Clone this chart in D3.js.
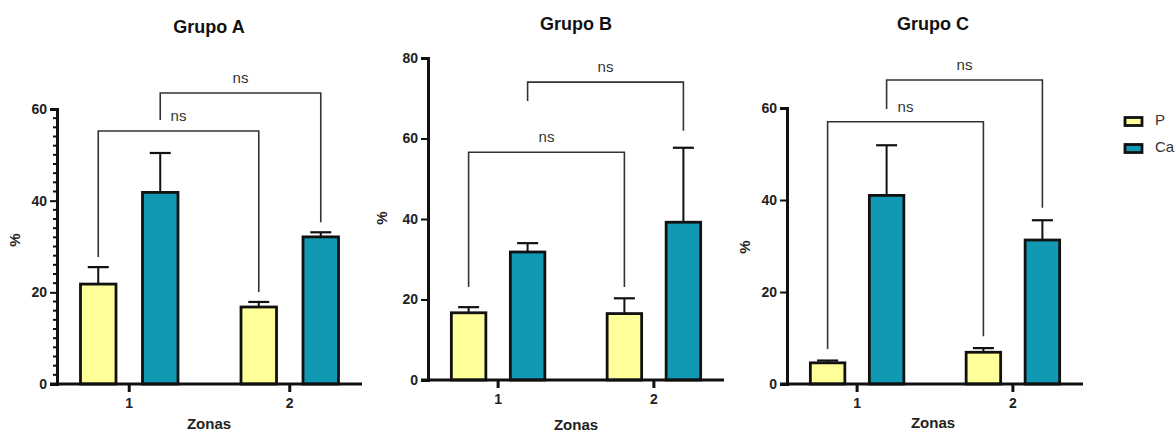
<!DOCTYPE html>
<html><head><meta charset="utf-8">
<script src="https://cdn.jsdelivr.net/npm/d3@7"></script>
<style>
body{margin:0;background:#fff;}
svg{font-family:"Liberation Sans",Arial,sans-serif;}
</style></head>
<body><svg id="c" width="1175" height="434"></svg>
<script>
// ---- data ----
const groups = ["Grupo A", "Grupo B", "Grupo C"];
const zones = ["1", "2"];
const series = ["P", "Ca"];
const seriesColors = ["#FFFF99", "#1199B4"];
const yMaxes = [60, 80, 60];
const yTicks = [[0, 20, 40, 60], [0, 20, 40, 60, 80], [0, 20, 40, 60]];
// means per group: [zone1, zone2]
const meanP = [[21.8, 16.8], [16.7, 16.5], [4.6, 6.9]];
const meanCa = [[41.8, 32.1], [31.8, 39.2], [41.0, 31.3]];
// upper end of error bar (mean + SD)
const errP = [[25.5, 17.9], [18.1, 20.3], [5.1, 7.8]];
const errCa = [[50.4, 33.1], [34.0, 57.7], [51.9, 35.6]];
// significance brackets: [fromSeries, toSeries, barY, leftLegEnd, rightLegEnd, label] in data units
const bracketsA = [["P", "P", 55.2, 27.7, 20.1, "ns"], ["Ca", "Ca", 63.5, 57.6, 35.3, "ns"]];
const bracketsB = [["P", "P", 56.6, 23.1, 23.1, "ns"], ["Ca", "Ca", 74.0, 69.3, 61.9, "ns"]];
const bracketsC = [["P", "P", 57.0, 7.6, 10.4, "ns"], ["Ca", "Ca", 66.1, 59.8, 38.3, "ns"]];
const brackets = [bracketsA, bracketsB, bracketsC];
const minorStep = [2, null, null];
const xLabel = "Zonas";
const yLabel = "%";

// ---- layout ----
const panels = [
  {x0: 57, x1: 362, yTop: 109, y0: 384, bw: 38, title: [209, 28], zl: [209, 425], yl: [16, 240]},
  {x0: 428, x1: 724, yTop: 58, y0: 380, bw: 37, title: [576, 25], zl: [576, 426], yl: [383, 218]},
  {x0: 787, x1: 1083, yTop: 108, y0: 384, bw: 37, title: [933, 25], zl: [933, 424], yl: [746, 247]}
];

const svg = d3.select("#c");

panels.forEach((p, gi) => {
  const g = svg.append("g");
  const y = d3.scaleLinear().domain([0, yMaxes[gi]]).range([p.y0, p.yTop]);
  const x = d3.scalePoint().domain(zones).range([p.x0, p.x1]).padding(0.45);
  const gap = gi === 0 ? 24 : 22;
  const half = p.bw + gap / 2;
  const xs = d3.scaleBand().domain(series).range([-half, half])
    .paddingInner((2 * half - 2 * p.bw) / (2 * half - p.bw));
  const cx = (z, s) => x(z) + xs(s) + xs.bandwidth() / 2;

  // title
  g.append("text").attr("x", p.title[0]).attr("y", p.title[1]).attr("text-anchor", "middle")
    .attr("dominant-baseline", "middle").attr("font-weight", "bold").attr("font-size", 18)
    .attr("fill", "#111").text(groups[gi]);

  // brackets
  brackets[gi].forEach(b => {
    const xa = cx(zones[0], b[0]), xb = cx(zones[1], b[1]);
    const yb = y(b[2]);
    g.append("path")
      .attr("d", `M${xa},${y(b[3])}V${yb}H${xb}V${y(b[4])}`)
      .attr("fill", "none").attr("stroke", "#333").attr("stroke-width", 1.6);
    g.append("text").attr("x", (xa + xb) / 2).attr("y", yb - 14).attr("text-anchor", "middle")
      .attr("dominant-baseline", "middle").attr("font-size", 15).attr("fill", "#333").text(b[5]);
  });

  // bars
  const rows = [];
  zones.forEach((z, zi) => {
    rows.push({z, s: "P", v: meanP[gi][zi], e: errP[gi][zi], c: seriesColors[0]});
    rows.push({z, s: "Ca", v: meanCa[gi][zi], e: errCa[gi][zi], c: seriesColors[1]});
  });
  rows.forEach(r => {
    const c = cx(r.z, r.s);
    g.append("line").attr("x1", c).attr("x2", c).attr("y1", y(r.v)).attr("y2", y(r.e))
      .attr("stroke", "#111").attr("stroke-width", 2);
    g.append("line").attr("x1", c - 10.5).attr("x2", c + 10.5).attr("y1", y(r.e)).attr("y2", y(r.e))
      .attr("stroke", "#111").attr("stroke-width", 2.2);
  });
  g.selectAll("rect.bar").data(rows).join("rect").attr("class", "bar")
    .attr("x", d => x(d.z) + xs(d.s) + 1.25)
    .attr("width", xs.bandwidth() - 2.5)
    .attr("y", d => y(d.v))
    .attr("height", d => p.y0 - y(d.v))
    .attr("fill", d => d.c).attr("stroke", "#111").attr("stroke-width", 2.8);

  // y axis
  const ya = d3.axisLeft(y).tickValues(yTicks[gi]).tickSize(7).tickPadding(3);
  const yg = g.append("g").attr("transform", `translate(${p.x0},0)`).call(ya);
  yg.select(".domain").attr("stroke", "#111").attr("stroke-width", 3);
  yg.selectAll(".tick line").attr("stroke", "#111").attr("stroke-width", 2);
  yg.selectAll(".tick text").attr("font-size", 14).attr("font-weight", "bold").attr("fill", "#222")
    .attr("font-family", "Liberation Sans, Arial, sans-serif");
  if (minorStep[gi]) {
    const minors = d3.range(0, yMaxes[gi] + 0.001, minorStep[gi]).filter(v => !yTicks[gi].includes(v));
    g.selectAll("line.minor").data(minors).join("line").attr("class", "minor")
      .attr("x1", p.x0 - 4).attr("x2", p.x0).attr("y1", d => y(d)).attr("y2", d => y(d))
      .attr("stroke", "#111").attr("stroke-width", 2);
  }
  // x axis
  const xg = g.append("g").attr("transform", `translate(0,${p.y0})`);
  xg.append("line").attr("x1", p.x0 - 7).attr("x2", p.x1).attr("y1", 0).attr("y2", 0)
    .attr("stroke", "#111").attr("stroke-width", 3);
  zones.forEach(z => {
    xg.append("line").attr("x1", x(z)).attr("x2", x(z)).attr("y1", 0).attr("y2", 8)
      .attr("stroke", "#111").attr("stroke-width", 3);
    xg.append("text").attr("x", x(z)).attr("y", 20).attr("text-anchor", "middle")
      .attr("dominant-baseline", "middle").attr("font-size", 14).attr("font-weight", "bold")
      .attr("fill", "#222").text(z);
  });

  // axis titles
  g.append("text").attr("x", p.zl[0]).attr("y", p.zl[1]).attr("text-anchor", "middle")
    .attr("dominant-baseline", "middle").attr("font-size", 15).attr("font-weight", "bold")
    .attr("fill", "#222").text(xLabel);
  g.append("text").attr("transform", `translate(${p.yl[0]},${p.yl[1]}) rotate(-90)`)
    .attr("text-anchor", "middle").attr("dominant-baseline", "middle").attr("font-size", 15)
    .attr("font-weight", "bold").attr("fill", "#222").text(yLabel);
});

// legend
const lg = svg.append("g").attr("transform", "translate(1124,121)");
series.forEach((s, i) => {
  const row = lg.append("g").attr("transform", `translate(0,${i * 27})`);
  row.append("rect").attr("x", 1).attr("y", -3.5).attr("width", 17).attr("height", 8)
    .attr("fill", seriesColors[i]).attr("stroke", "#111").attr("stroke-width", 2.8);
  row.append("text").attr("x", 31).attr("y", 0).attr("dominant-baseline", "middle")
    .attr("font-size", 15).attr("fill", "#333").text(s);
});
</script></body></html>
